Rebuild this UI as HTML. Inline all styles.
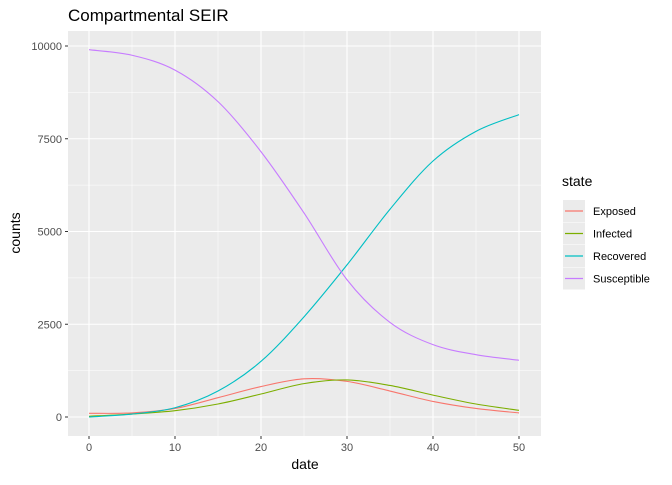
<!DOCTYPE html>
<html><head><meta charset="utf-8"><style>
body{margin:0;background:#fff;font-family:"Liberation Sans",sans-serif}
</style></head><body>
<svg id="c" width="672" height="480" xmlns="http://www.w3.org/2000/svg">
<text x="68" y="21" font-size="17" fill="#000">Compartmental SEIR</text>
<rect x="68" y="31" width="473" height="405" fill="#EBEBEB"/>
<g id="grid"></g><g id="lines"></g><g id="axes"></g>
<text x="305" y="469" font-size="14" text-anchor="middle">date</text>
<text transform="translate(20,233) rotate(-90)" font-size="14" text-anchor="middle">counts</text>
<text x="562" y="186" font-size="14">state</text>
<g id="legend"></g>
</svg>
<script>
const days=[0,5,10,15,20,25,30,35,40,45,50];
const exposed=[100,110,230,520,820,1030,960,700,420,230,110];
const infected=[20,80,170,350,620,900,1000,850,590,350,180];
const recovered=[0,80,250,700,1500,2700,4100,5600,6900,7700,8150];
const susceptible=[9900,9750,9350,8500,7150,5500,3700,2550,1950,1680,1530];
const xTicks=[0,10,20,30,40,50];
const yTicks=[0,2500,5000,7500,10000];
const seriesNames=["Exposed","Infected","Recovered","Susceptible"];
const colors=["#F8766D","#7CAE00","#00BFC4","#C77CFF"];
const NS="http://www.w3.org/2000/svg";
const x=v=>89+v*8.6, y=v=>417-v*0.0371;
function mk(tag,attrs,parent){const e=document.createElementNS(NS,tag);for(const k in attrs)e.setAttribute(k,attrs[k]);parent.appendChild(e);return e;}
const grid=document.getElementById('grid'),axes=document.getElementById('axes');
for(let i=0;i<xTicks.length;i++){
 if(i<xTicks.length-1){const m=(xTicks[i]+xTicks[i+1])/2;const g=mk('line',{x1:x(m),x2:x(m),y1:31,y2:436,stroke:'#fff','stroke-width':0.5},grid);}
 const g=mk('line',{x1:x(xTicks[i]),x2:x(xTicks[i]),y1:31,y2:436,stroke:'#fff','stroke-width':1.1},grid);
 
 mk('line',{x1:x(xTicks[i]),x2:x(xTicks[i]),y1:436,y2:439,stroke:'#333'},axes);
 const t=mk('text',{x:x(xTicks[i]),y:451,'font-size':11,fill:'#4D4D4D','text-anchor':'middle'},axes);t.textContent=xTicks[i];
 
}
for(let i=0;i<yTicks.length;i++){
 if(i<yTicks.length-1){const m=(yTicks[i]+yTicks[i+1])/2;const g=mk('line',{x1:68,x2:541,y1:y(m),y2:y(m),stroke:'#fff','stroke-width':0.5},grid);}
 const g=mk('line',{x1:68,x2:541,y1:y(yTicks[i]),y2:y(yTicks[i]),stroke:'#fff','stroke-width':1.1},grid);
 
 mk('line',{x1:65,x2:68,y1:y(yTicks[i]),y2:y(yTicks[i]),stroke:'#333'},axes);
 const t=mk('text',{x:62,y:y(yTicks[i])+4,'font-size':11,fill:'#4D4D4D','text-anchor':'end'},axes);t.textContent=yTicks[i];
 
}
function path(vals){
 const p=days.map((d,i)=>[x(d),y(vals[i])]);let s=`M${p[0][0]},${p[0][1]}`;
 for(let i=0;i<p.length-1;i++){const p0=p[Math.max(0,i-1)],p1=p[i],p2=p[i+1],p3=p[Math.min(p.length-1,i+2)];
  s+=` C${p1[0]+(p2[0]-p0[0])/6},${p1[1]+(p2[1]-p0[1])/6} ${p2[0]-(p3[0]-p1[0])/6},${p2[1]-(p3[1]-p1[1])/6} ${p2[0]},${p2[1]}`;}
 return s;}
const all=[exposed,infected,recovered,susceptible];
const lines=document.getElementById('lines'),legend=document.getElementById('legend');
all.forEach((v,i)=>{
 const l=mk('path',{d:path(v),fill:'none',stroke:colors[i],'stroke-width':1.1},lines);
 
 const yy=200+i*22.5;
 const k=mk('rect',{x:563,y:yy,width:22,height:22,fill:'#EBEBEB'},legend);
 
 mk('line',{x1:565,x2:583,y1:yy+11,y2:yy+11,stroke:colors[i],'stroke-width':1.3},legend);
 const t=mk('text',{x:593,y:yy+15,'font-size':11},legend);t.textContent=seriesNames[i];
 
});
</script>
</body></html>
